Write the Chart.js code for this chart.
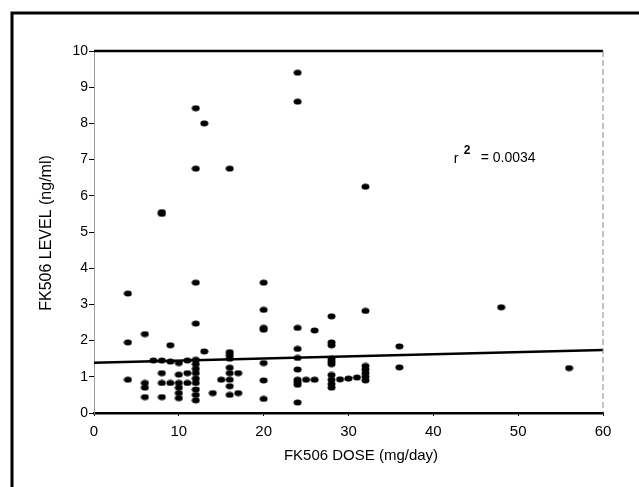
<!DOCTYPE html>
<html>
<head>
<meta charset="utf-8">
<script src="https://cdn.jsdelivr.net/npm/chart.js@4"></script>
<style>
  body { margin: 0; background: #fff; }
  canvas { display: block; }
</style>
</head>
<body>
<canvas id="fkChart" width="639" height="487"></canvas>
<script>
// FK506 dose (mg/day) vs level (ng/ml)
var doses = [
  24, 24, 12, 13, 12, 16, 32, 8, 8,
  4, 12, 20, 20, 32, 48, 28, 12, 20, 20, 24, 26,
  4, 6, 9, 28, 28, 36, 24, 13,
  16, 16, 16, 20, 24, 28, 28, 28, 36, 56,
  32, 32, 32, 32, 32, 31, 30, 29,
  4, 20, 20, 24, 24, 24, 24, 24, 25, 26,
  28, 28, 28, 28,
  6, 6, 6, 8, 8, 8, 9, 10, 10, 10, 10, 10, 11, 11,
  12, 12, 12, 12, 12, 12, 12, 12, 12,
  14, 16, 17, 15, 16, 16, 16, 17, 16,
  7, 8, 9, 10, 11
];
var levels = [
  9.4, 8.6, 8.42, 8.0, 6.75, 6.75, 6.25, 5.55, 5.5,
  3.3, 3.6, 3.6, 2.85, 2.82, 2.92, 2.67, 2.47, 2.35, 2.3, 2.35, 2.28,
  1.95, 2.18, 1.87, 1.95, 1.87, 1.84, 1.77, 1.7,
  1.68, 1.6, 1.5, 1.38, 1.52, 1.5, 1.42, 1.35, 1.26, 1.24,
  1.3, 1.2, 1.1, 1.0, 0.9, 0.98, 0.95, 0.93,
  0.92, 0.9, 0.39, 0.29, 1.2, 0.92, 0.85, 0.78, 0.92, 0.92,
  1.05, 0.92, 0.8, 0.7,
  0.83, 0.7, 0.44, 1.1, 0.83, 0.44, 0.83, 1.06, 0.83, 0.7, 0.55, 0.41, 0.83, 1.1,
  1.47, 1.35, 1.22, 1.1, 0.95, 0.83, 0.65, 0.5, 0.35,
  0.55, 1.1, 1.1, 0.92, 0.92, 0.74, 0.5, 0.55, 1.25,
  1.45, 1.45, 1.42, 1.38, 1.45
];
// regression line end points
var fitX = [0, 60];
var fitY = [1.39, 1.74];
var xTicks = [0, 10, 20, 30, 40, 50, 60];
var rSquared = '0.0034';

var points = doses.map(function(d, i) { return { x: d, y: levels[i] }; });
var fitLine = fitX.map(function(d, i) { return { x: d, y: fitY[i] }; });

// dots in the scan are a little wider than tall
var dot = document.createElement('canvas');
dot.width = 9; dot.height = 7;
(function() {
  var c = dot.getContext('2d');
  c.fillStyle = '#000';
  c.beginPath();
  c.ellipse(4.5, 3.5, 4, 3, 0, 0, Math.PI * 2);
  c.fill();
})();

var FONT = '"Liberation Sans", Arial, sans-serif';

var decor = {
  id: 'decor',
  afterDraw: function(chart) {
    var ctx = chart.ctx;
    var a = chart.chartArea;
    var xs = chart.scales.x, ys = chart.scales.y;
    ctx.save();
    // outer frame
    ctx.strokeStyle = '#000';
    ctx.lineWidth = 3;
    ctx.beginPath();
    ctx.moveTo(12, 490);
    ctx.lineTo(12, 13);
    ctx.lineTo(642, 13);
    ctx.stroke();
    // top border of plot
    ctx.lineWidth = 2.5;
    ctx.beginPath();
    ctx.moveTo(a.left, a.top);
    ctx.lineTo(a.right, a.top);
    ctx.stroke();
    // right border, faint dashed
    ctx.lineWidth = 1;
    ctx.strokeStyle = '#888';
    ctx.setLineDash([6, 3]);
    ctx.beginPath();
    ctx.moveTo(a.right, a.top);
    ctx.lineTo(a.right, a.bottom);
    ctx.stroke();
    ctx.setLineDash([]);
    // axis titles
    ctx.fillStyle = '#000';
    ctx.textAlign = 'center';
    ctx.textBaseline = 'middle';
    ctx.font = '15px ' + FONT;
    ctx.fillText('FK506 DOSE (mg/day)', 361, 456);
    ctx.save();
    ctx.translate(47, 233);
    ctx.rotate(-Math.PI / 2);
    ctx.font = '16px ' + FONT;
    ctx.fillText('FK506 LEVEL (ng/ml)', 0, 0);
    ctx.restore();
    // r squared note
    var tx = xs.getPixelForValue(42.4);
    var ty = ys.getPixelForValue(7.05);
    ctx.textAlign = 'left';
    ctx.font = '14px ' + FONT;
    ctx.fillText('r', tx, ty + 1);
    ctx.font = 'bold 12px ' + FONT;
    ctx.fillText('2', tx + 10, ty - 7);
    ctx.font = '14px ' + FONT;
    ctx.fillText('= ' + rSquared, tx + 27, ty);
    ctx.restore();
  }
};

new Chart(document.getElementById('fkChart'), {
  type: 'scatter',
  data: {
    datasets: [{
      data: points,
      pointStyle: dot,
      backgroundColor: '#000',
      borderColor: '#000'
    }, {
      type: 'line',
      data: fitLine,
      borderColor: '#000',
      borderWidth: 2.5,
      pointRadius: 0,
      fill: false
    }]
  },
  plugins: [decor],
  options: {
    responsive: false,
    animation: false,
    devicePixelRatio: 1,
    layout: { padding: { top: 51, right: 36, left: 0, bottom: 0 } },
    plugins: {
      legend: { display: false },
      tooltip: { enabled: false }
    },
    scales: {
      x: {
        type: 'linear',
        min: 0,
        max: 60,
        afterFit: function(s) { s.height = 74; },
        afterBuildTicks: function(s) { s.ticks = xTicks.map(function(v) { return { value: v }; }); },
        border: { display: true, color: '#000', width: 2.5 },
        grid: { drawOnChartArea: false, drawTicks: true, tickLength: 3, color: '#000' },
        ticks: {
          color: '#000',
          padding: 7,
          maxRotation: 0,
          font: { family: FONT, size: 15 }
        }
      },
      y: {
        min: 0,
        max: 10,
        afterFit: function(s) { s.width = 94; },
        border: { display: true, color: '#999', width: 1, dash: [1, 2] },
        grid: { drawOnChartArea: false, drawTicks: true, tickLength: 5, color: '#000' },
        ticks: {
          stepSize: 1,
          color: '#000',
          padding: 1,
          font: { family: FONT, size: 14 }
        }
      }
    }
  }
});
</script>
</body>
</html>
